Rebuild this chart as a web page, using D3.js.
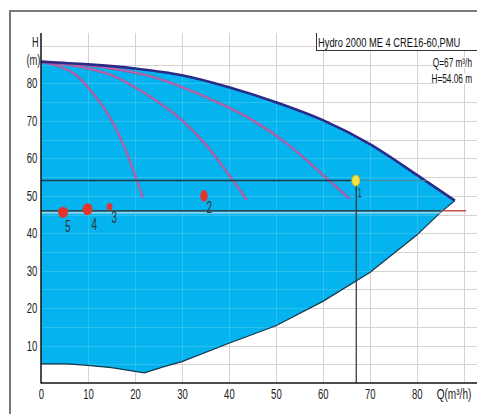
<!DOCTYPE html>
<html><head><meta charset="utf-8">
<script src="https://cdn.jsdelivr.net/npm/d3@7"></script>
<style>html,body{margin:0;padding:0;background:#fff;overflow:hidden}</style>
</head><body><svg id="c" width="477" height="414" xmlns="http://www.w3.org/2000/svg"></svg>
<script>
// ---- data ----
const qTicks = [0,10,20,30,40,50,60,70,80];
const hTicks = [10,20,30,40,50,60,70,80];
const gridQ = [10,20,30,40,50,60,70,80,90];
const gridH = [5,10,15,20,25,30,35,40,45,50,55,60,65,70,75,80,85,90];
const maxCurve = [[0,85.8],[10,85.1],[20,84.0],[30,82.2],[40,79.0],[50,75.0],[60,70.2],[70,63.8],[80,55.6],[88.1,48.7]];
const minCurve = [[0,5.1],[5.5,5.1],[10,4.7],[15,4.1],[22,2.7],[26,4.3],[30,5.7],[40,10.6],[50,15.3],[60,21.8],[70,29.5],[80,39.5],[85,45.5],[88.1,48.7]];
const onePump = [[0,85.8],[2.5,85.1],[5,84.0],[7.5,82.2],[10,79.0],[12.5,75.0],[15,70.2],[17.5,63.8],[20,55.6],[21.7,49.4]];
const twoPumps = [[0,85.8],[5,85.1],[10,84.0],[15,82.2],[20,79.0],[25,75.0],[30,70.2],[35,63.8],[40,55.6],[43.8,48.9]];
const threePumps = [[0,85.8],[7.5,85.1],[15,84.0],[22.5,82.2],[30,79.0],[37.5,75.0],[45,70.2],[52.5,63.8],[60,55.6],[65.7,49.2]];
const dutyQ = 67, dutyH = 54.06, dutyEndQ = 82.2;
const setpointH = 46.0, setpointEndQ = 90.5, setpointBlueEndQ = 85.2;
const opIds = ["5","4","3","2"];
const opQ = [4.7, 9.9, 14.6, 34.7];
const opH = [45.6, 46.4, 47.1, 50.0];
const titleText = "Hydro 2000 ME 4 CRE16-60,PMU";
const infoQ = "Q=67 m³/h";
const infoH = "H=54.06 m";

// ---- styles ----
const opSize = {"5":[5,5.5],"4":[5,6],"3":[2.8,3.7],"2":[3.7,5.8]};
const FONT = "'Liberation Sans', Arial, sans-serif";

const svg = d3.select("#c");
const x = d3.scaleLinear().domain([0,90]).range([41,463.8]);
const y = d3.scaleLinear().domain([0,90]).range([383,46]);
const plotTop = 33, plotRight = 477;

// outer frame
svg.append("line").attr("x1",10).attr("x2",10).attr("y1",10).attr("y2",414).attr("stroke","#7a7a7a").attr("stroke-width",2);
svg.append("line").attr("x1",10).attr("x2",477).attr("y1",11).attr("y2",11).attr("stroke","#7a7a7a").attr("stroke-width",2);

// grid
const grid = svg.append("g").attr("stroke","#d8d2d2").attr("stroke-width",1);
grid.selectAll(".v").data(gridQ).join("line").attr("x1",d=>Math.round(x(d))+0.5).attr("x2",d=>Math.round(x(d))+0.5).attr("y1",plotTop).attr("y2",y(0));
grid.selectAll(".h").data(gridH).join("line").attr("y1",d=>Math.round(y(d))+0.5).attr("y2",d=>Math.round(y(d))+0.5).attr("x1",x(0)).attr("x2",plotRight);

// blue area
const lineSmooth = d3.line().x(d=>x(d[0])).y(d=>y(d[1])).curve(d3.curveMonotoneX);
const lineLin = d3.line().x(d=>x(d[0])).y(d=>y(d[1]));
const upper = lineSmooth(maxCurve);
const lower = lineLin(minCurve.slice().reverse()).replace(/^M/,"L");
const areaPath = upper + lower + "Z";
svg.append("defs").append("clipPath").attr("id","blue").append("path").attr("d",areaPath);
svg.append("path").attr("d",areaPath).attr("fill","#05b3ee");

// faint grid over blue
const g2 = svg.append("g").attr("clip-path","url(#blue)").attr("stroke","#ffffff").attr("stroke-opacity",0.16).attr("stroke-width",1);
g2.selectAll(".v").data(gridQ).join("line").attr("x1",d=>Math.round(x(d))+0.5).attr("x2",d=>Math.round(x(d))+0.5).attr("y1",plotTop).attr("y2",y(0));
g2.selectAll(".h").data(gridH).join("line").attr("y1",d=>Math.round(y(d))+0.5).attr("y2",d=>Math.round(y(d))+0.5).attr("x1",x(0)).attr("x2",plotRight);

// min curve line
svg.append("path").attr("d",lineLin(minCurve)).attr("fill","none").attr("stroke","#15374a").attr("stroke-width",1.2);

// pump curves
[onePump,twoPumps,threePumps].forEach(c=>{
  svg.append("path").attr("d",lineSmooth(c)).attr("fill","none").attr("stroke","#a5529c").attr("stroke-width",2.4);
  svg.append("path").attr("d",lineSmooth(c)).attr("fill","none").attr("stroke","#c878bc").attr("stroke-width",0.8);
});
// max curve
svg.append("path").attr("d",lineSmooth(maxCurve)).attr("fill","none").attr("stroke","#2a2a88").attr("stroke-width",2.6);

// setpoint line: red outside, dark inside blue
svg.append("line").attr("x1",x(0)).attr("x2",x(setpointEndQ)).attr("y1",y(setpointH)).attr("y2",y(setpointH)).attr("stroke","#c0504a").attr("stroke-width",1.3);
const gc = svg.append("g").attr("clip-path","url(#blue)");
gc.append("line").attr("x1",x(0)).attr("x2",x(setpointEndQ)).attr("y1",y(setpointH)+2).attr("y2",y(setpointH)+2).attr("stroke","#7fd6f4").attr("stroke-width",2);
gc.append("line").attr("x1",x(0)).attr("x2",x(setpointBlueEndQ)).attr("y1",y(setpointH)).attr("y2",y(setpointH)).attr("stroke","#1a4d5c").attr("stroke-width",1.5);

// duty lines
svg.append("line").attr("x1",x(0)).attr("x2",x(dutyQ)).attr("y1",y(dutyH)).attr("y2",y(dutyH)).attr("stroke","#173f4c").attr("stroke-width",1.5);
svg.append("line").attr("x1",x(dutyQ)).attr("x2",x(dutyEndQ)).attr("y1",y(dutyH)).attr("y2",y(dutyH)).attr("stroke","#4b8a9c").attr("stroke-width",1);
svg.append("line").attr("x1",x(dutyQ)+0.5).attr("x2",x(dutyQ)+0.5).attr("y1",y(dutyH)).attr("y2",y(0)).attr("stroke","#2e2e2e").attr("stroke-width",1.2);

// operating points
opIds.forEach((id,i)=>{
  svg.append("ellipse").attr("cx",x(opQ[i])).attr("cy",y(opH[i])).attr("rx",opSize[id][0]).attr("ry",opSize[id][1]).attr("fill","#e5342c");
});
svg.append("ellipse").attr("cx",x(dutyQ)).attr("cy",y(dutyH)).attr("rx",4).attr("ry",5.5).attr("fill","#f4e33c").attr("stroke","#e0a82a").attr("stroke-width",0.8);

function txt(px,py,str,size,anchor,sx,fill){
  return svg.append("text").attr("transform",`translate(${px},${py}) scale(${sx},1)`)
    .attr("text-anchor",anchor).attr("font-family",FONT).attr("font-size",size).attr("fill",fill||"#222").text(str);
}
// point labels
const labOff = {"5":[2,20],"4":[4,21],"3":[2,16.5],"2":[2.5,17.5]};
opIds.forEach((id,i)=>{
  txt(x(opQ[i])+labOff[id][0], y(opH[i])+labOff[id][1], id, 16, "start", 0.62, "#333");
});
txt(x(dutyQ)+2, y(dutyH)+16, "1", 12, "start", 0.6, "#333");

// axes
const ax = svg.append("g").attr("transform",`translate(0,${y(0)})`)
  .call(d3.axisBottom(x).tickValues(qTicks).tickSize(0).tickPadding(6));
ax.select(".domain").remove();
ax.selectAll("text").attr("font-family",FONT).attr("font-size",14).attr("fill","#222").attr("transform","scale(0.68,1)");
const ay = svg.append("g").attr("transform",`translate(${x(0)},0)`)
  .call(d3.axisLeft(y).tickValues(hTicks).tickSize(0).tickPadding(5.5));
ay.select(".domain").remove();
ay.selectAll("text").attr("font-family",FONT).attr("font-size",14).attr("fill","#222").attr("transform","scale(0.68,1)");
svg.append("line").attr("x1",x(0)).attr("x2",x(0)).attr("y1",plotTop).attr("y2",y(0)+0.5).attr("stroke","#111").attr("stroke-width",1.5);
svg.append("line").attr("x1",x(0)).attr("x2",plotRight).attr("y1",y(0)).attr("y2",y(0)).attr("stroke","#111").attr("stroke-width",1.5);

txt(38.5,47,"H",14,"end",0.65);
txt(40.5,64.5,"(m)",14,"end",0.67);
txt(454,399,"Q(m³/h)",14,"middle",0.72);

// title box
svg.append("rect").attr("x",316).attr("y",33).attr("width",161).attr("height",17.5).attr("fill","#fff");
svg.append("line").attr("x1",316.5).attr("x2",316.5).attr("y1",33).attr("y2",50.5).attr("stroke","#333");
svg.append("line").attr("x1",316).attr("x2",477).attr("y1",50.5).attr("y2",50.5).attr("stroke","#333");
txt(318,47,titleText,13,"start",0.72,"#111");
svg.append("rect").attr("x",436).attr("y",57).attr("width",41).attr("height",11).attr("fill","#fff");
svg.append("rect").attr("x",437).attr("y",73).attr("width",40).attr("height",11).attr("fill","#fff");
txt(472,66.5,infoQ,12.5,"end",0.66,"#111");
txt(472,82.5,infoH,12.5,"end",0.66,"#111");
</script>
</body></html>
